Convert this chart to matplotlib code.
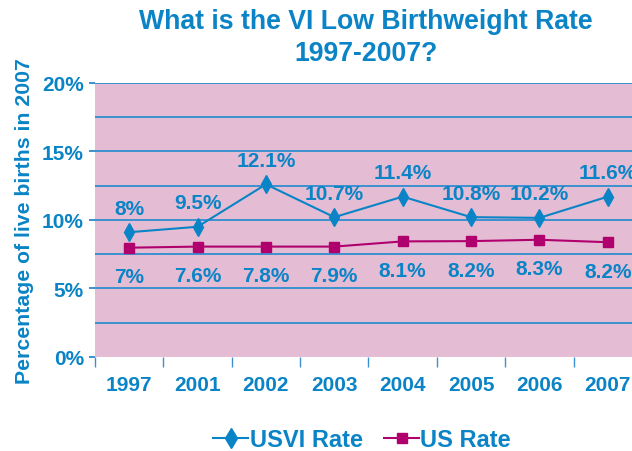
import matplotlib
matplotlib.use("Agg")
import matplotlib.pyplot as plt
import numpy as np

years = ["1997", "2001", "2002", "2003", "2004", "2005", "2006", "2007"]
usvi_values = [9.1, 9.5, 12.6, 10.2, 11.7, 10.2, 10.15, 11.7]
us_values = [7.97, 8.05, 8.05, 8.05, 8.43, 8.45, 8.55, 8.37]
usvi_labels = ["8%", "9.5%", "12.1%", "10.7%", "11.4%", "10.8%", "10.2%", "11.6%"]
us_labels = ["7%", "7.6%", "7.8%", "7.9%", "8.1%", "8.2%", "8.3%", "8.2%"]
yticks = [0, 5, 10, 15, 20]
ytick_labels = ["0%", "5%", "10%", "15%", "20%"]

BLUE = "#0a84c6"
GRID = "#3c90d0"
PINK = "#e4bdd4"
MAGENTA = "#b0006e"

plt.rcParams['font.family'] = ['Liberation Sans', 'DejaVu Sans']
plt.rcParams['font.weight'] = 'bold'

fig = plt.figure(figsize=(6.32, 4.52), dpi=100)
ax = fig.add_axes([95/632, 1-357.8/452, 547/632, (357.8-84)/452])
ax.set_facecolor(PINK)
x = np.arange(len(years))

ax.set_ylim(0, 20)
ax.set_xlim(-0.5, len(years)-0.5)
for v in np.arange(2.5, 20.01, 2.5):
    ax.axhline(v, color=GRID, lw=1.4, zorder=1)

ax.plot(x, usvi_values, color=BLUE, lw=1.5, marker='d', markersize=9,
        markerfacecolor=BLUE, markeredgecolor=BLUE, zorder=3, label="USVI Rate")
ax.plot(x, us_values, color=MAGENTA, lw=1.5, marker='s', markersize=6.5,
        markerfacecolor=MAGENTA, markeredgecolor=MAGENTA, zorder=3, label="US Rate")

for i in range(len(years)):
    ax.annotate(usvi_labels[i], (x[i], usvi_values[i]), xytext=(0, 10.5),
                textcoords='offset points', ha='center', va='bottom',
                color=BLUE, fontsize=15, fontweight='bold')
    ax.annotate(us_labels[i], (x[i], us_values[i]), xytext=(0, -14),
                textcoords='offset points', ha='center', va='top',
                color=BLUE, fontsize=15, fontweight='bold')

for s in ax.spines.values():
    s.set_visible(False)

ax.set_yticks(yticks)
ax.set_yticklabels(ytick_labels)
ax.tick_params(axis='y', colors=GRID, labelcolor=BLUE, labelsize=15,
               length=4, width=1.4, pad=4)
ax.set_xticks(x)
ax.set_xticklabels(years)
ax.tick_params(axis='x', length=0, labelcolor=BLUE, labelsize=15, pad=13)
ax.set_xticks(np.arange(-0.5, len(years), 1), minor=True)
ax.tick_params(axis='x', which='minor', length=7, width=1, color=GRID)

ax.set_ylabel("Percentage of live births in 2007", color=BLUE, fontsize=15.3,
              fontweight='bold', labelpad=6)

fig.text(366/632, 0.981, "What is the VI Low Birthweight Rate\n1997-2007?",
         ha='center', va='top', color=BLUE, fontsize=19.2, fontweight='bold',
         linespacing=1.3)

leg = fig.legend(loc='center', bbox_to_anchor=(362/632, 1-441/452), ncol=2,
                 frameon=False, fontsize=17, handlelength=1.5,
                 handletextpad=0.05, columnspacing=0.9, markerscale=1.15)
for t in leg.get_texts():
    t.set_color(BLUE)
    t.set_fontweight('bold')

fig.savefig("out.png", dpi=100)
